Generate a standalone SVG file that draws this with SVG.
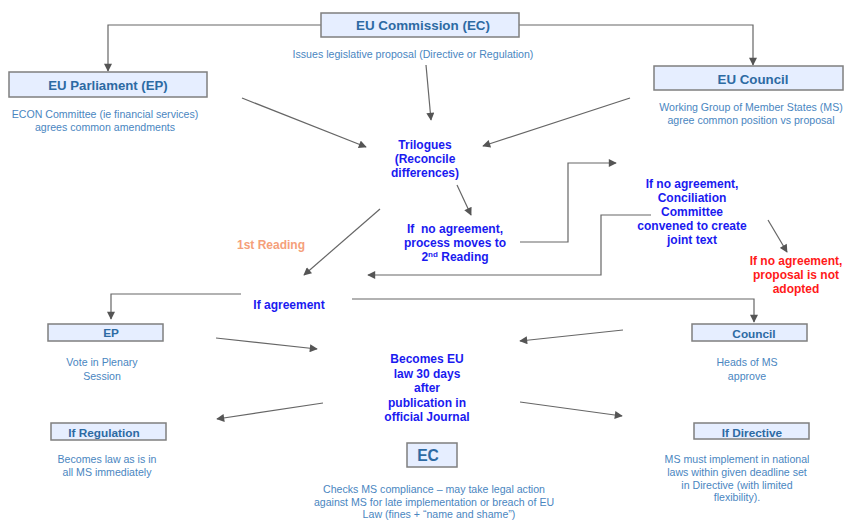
<svg xmlns="http://www.w3.org/2000/svg" width="844" height="523" viewBox="0 0 844 523">
<defs>
<marker id="ah" viewBox="0 0 10 10" refX="9" refY="5" markerWidth="9" markerHeight="8" markerUnits="userSpaceOnUse" orient="auto">
<path d="M0,0 L10,5 L0,10 z" fill="#555"/>
</marker>
<style>
.box{fill:#e6eeff;stroke:#7f7f7f;stroke-width:1.5}
.lbl{font-family:"Liberation Sans",Arial,sans-serif;font-weight:bold;fill:#2d6aa3;text-anchor:middle}
.desc{font-family:"Liberation Sans",Arial,sans-serif;font-size:10.6px;fill:#4a86bf;text-anchor:middle}
.bt{font-family:"Liberation Sans",Arial,sans-serif;font-weight:bold;font-size:12px;fill:#1a1af0;text-anchor:middle}
.rt{font-family:"Liberation Sans",Arial,sans-serif;font-weight:bold;font-size:12px;fill:#ff1a1a;text-anchor:middle}
.ot{font-family:"Liberation Sans",Arial,sans-serif;font-weight:bold;font-size:12px;fill:#f5a07a;text-anchor:middle}
.c{fill:none;stroke:#666;stroke-width:1.2}
.ca{fill:none;stroke:#666;stroke-width:1.2;marker-end:url(#ah)}
</style>
</defs>
<rect width="844" height="523" fill="#fff"/>
<g id="connectors">
<polyline class="ca" points="321,25 108,25 108,71"/>
<polyline class="ca" points="519,25 753,25 753,65"/>
<line class="ca" x1="242" y1="98" x2="366" y2="147"/>
<line class="ca" x1="426" y1="65" x2="431" y2="120"/>
<line class="ca" x1="630" y1="98" x2="483" y2="146"/>
<line class="ca" x1="457" y1="185" x2="471" y2="215"/>
<polyline class="ca" points="520,242 568,242 568,163 616,163"/>
<polyline class="ca" points="651,215 601,215 601,275 368,275"/>
<line class="ca" x1="768" y1="220" x2="787" y2="252"/>
<line class="ca" x1="380" y1="209" x2="304" y2="275"/>
<polyline class="ca" points="241,294 111,294 111,319"/>
<polyline class="ca" points="352,299 754,299 754,322"/>
<line class="ca" x1="216" y1="338" x2="317" y2="349"/>
<line class="ca" x1="623" y1="330" x2="520" y2="341"/>
<line class="ca" x1="323" y1="403" x2="217" y2="419"/>
<line class="ca" x1="520" y1="402" x2="622" y2="416"/>
</g>
<g id="ec">
<rect class="box" x="321" y="13" width="198" height="24"/>
<text class="lbl" x="423" y="30" font-size="13.4">EU Commission (EC)</text>
<text class="desc" x="413" y="58">Issues legislative proposal (Directive or Regulation)</text>
</g>
<g id="ep">
<rect class="box" x="9" y="72" width="198" height="25"/>
<text class="lbl" x="108" y="90" font-size="13.2">EU Parliament (EP)</text>
<text class="desc" x="105" y="118">ECON Committee (ie financial services)</text>
<text class="desc" x="105" y="131">agrees common amendments</text>
</g>
<g id="council">
<rect class="box" x="654" y="66" width="189" height="24"/>
<text class="lbl" x="753" y="84" font-size="13.3">EU Council</text>
<text class="desc" x="751" y="111">Working Group of Member States (MS)</text>
<text class="desc" x="751" y="124">agree common position vs proposal</text>
</g>
<g id="trilogues">
<text class="bt" x="425" y="149">Trilogues</text>
<text class="bt" x="425" y="163">(Reconcile</text>
<text class="bt" x="425" y="177">differences)</text>
</g>
<g id="noagree2">
<text class="bt" x="455" y="233" xml:space="preserve">If  no agreement,</text>
<text class="bt" x="455" y="247">process moves to</text>
<text class="bt" x="455" y="261">2<tspan font-size="8" dy="-4">nd</tspan><tspan dy="4"> Reading</tspan></text>
</g>
<g id="conciliation">
<text class="bt" x="692" y="188">If no agreement,</text>
<text class="bt" x="692" y="202">Conciliation</text>
<text class="bt" x="692" y="216">Committee</text>
<text class="bt" x="692" y="230">convened to create</text>
<text class="bt" x="692" y="244">joint text</text>
</g>
<g id="notadopted">
<text class="rt" x="796" y="265">If no agreement,</text>
<text class="rt" x="796" y="279">proposal is not</text>
<text class="rt" x="796" y="293">adopted</text>
</g>
<g id="firstreading">
<text class="ot" x="271" y="249">1st Reading</text>
</g>
<g id="ifagreement">
<text class="bt" x="289" y="309">If agreement</text>
</g>
<g id="ep2">
<rect class="box" x="48" y="324" width="115" height="17"/>
<text class="lbl" x="111" y="337" font-size="11.8">EP</text>
<text class="desc" x="102" y="366">Vote in Plenary</text>
<text class="desc" x="102" y="380">Session</text>
</g>
<g id="council2">
<rect class="box" x="692" y="324" width="115" height="17"/>
<text class="lbl" x="754" y="338" font-size="11.8">Council</text>
<text class="desc" x="747" y="366">Heads of MS</text>
<text class="desc" x="747" y="380">approve</text>
</g>
<g id="becomeslaw">
<text class="bt" x="427" y="363">Becomes EU</text>
<text class="bt" x="427" y="378">law 30 days</text>
<text class="bt" x="427" y="392">after</text>
<text class="bt" x="427" y="407">publication in</text>
<text class="bt" x="427" y="421">official Journal</text>
</g>
<g id="regulation">
<rect class="box" x="51" y="423" width="115" height="17"/>
<text class="lbl" x="104" y="437" font-size="11.8">If Regulation</text>
<text class="desc" x="107" y="463">Becomes law as is in</text>
<text class="desc" x="107" y="476">all MS immediately</text>
</g>
<g id="ec2">
<rect class="box" x="407" y="443" width="50" height="24"/>
<text class="lbl" x="428" y="461" font-size="15.6">EC</text>
<text class="desc" x="434" y="493">Checks MS compliance – may take legal action</text>
<text class="desc" x="434" y="506">against MS for late implementation or breach of EU</text>
<text class="desc" x="439" y="518">Law (fines + “name and shame”)</text>
</g>
<g id="directive">
<rect class="box" x="694" y="423" width="115" height="16"/>
<text class="lbl" x="752" y="437" font-size="11.8">If Directive</text>
<text class="desc" x="737" y="463">MS must implement in national</text>
<text class="desc" x="737" y="476">laws within given deadline set</text>
<text class="desc" x="737" y="489">in Directive (with limited</text>
<text class="desc" x="737" y="501">flexibility).</text>
</g>
</svg>
